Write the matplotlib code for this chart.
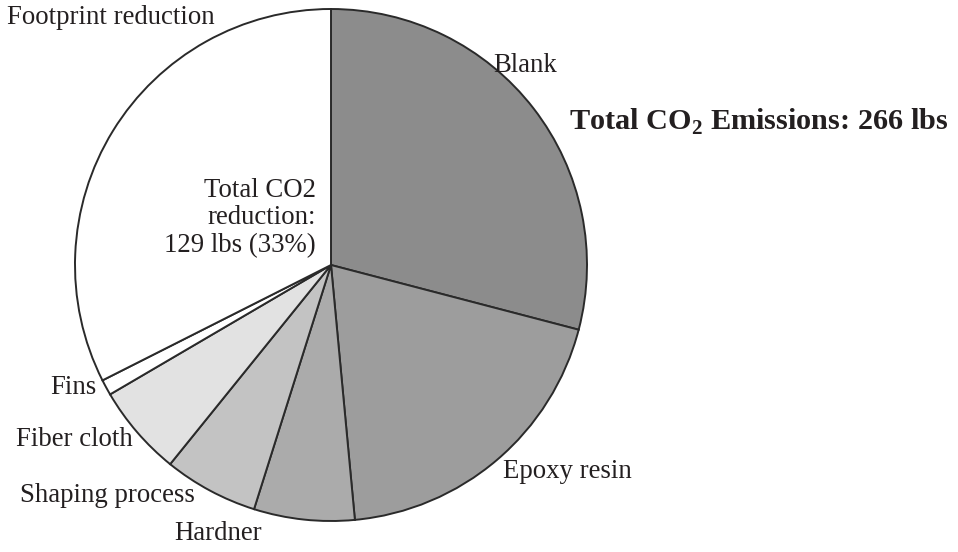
import matplotlib
matplotlib.use('Agg')
import matplotlib.pyplot as plt

# quote di emissioni (percentuali)
categorie = ['Blank', 'Epoxy resin', 'Hardner', 'Shaping process', 'Fiber cloth', 'Fins', 'Footprint reduction']
valori = [29.3, 19.6, 6.4, 6.0, 5.8, 1.0, 32.7]
colori = ['#8c8c8c', '#9d9d9d', '#ababab', '#c3c3c3', '#e2e2e2', '#ffffff', '#ffffff']

plt.rcParams['font.family'] = ['Liberation Serif', 'DejaVu Serif']
plt.rcParams['mathtext.fontset'] = 'custom'
plt.rcParams['mathtext.rm'] = 'Liberation Serif'
plt.rcParams['mathtext.bf'] = 'Liberation Serif:bold'

W, H = 958, 552
fig = plt.figure(figsize=(W / 100, H / 100), dpi=100)
ax = fig.add_axes([0, 0, 1, 1])

# pie in coordinate pixel (y verso l'alto)
ax.pie(valori, colors=colori, startangle=90, counterclock=False,
       radius=256, center=(331, H - 265),
       wedgeprops=dict(edgecolor='#2a2a2a', linewidth=1.4))
ax.set_xlim(0, W)
ax.set_ylim(0, H)
ax.set_aspect('equal')
ax.axis('off')

fs = 19.3
def etichetta(x, y, s, ha='center', **kw):
    ax.text(x, H - y, s, ha=ha, va='center', fontsize=fs, color='#231f20', **kw)

etichetta(7, 18, categorie[6], ha='left')
etichetta(525, 65, categorie[0])
etichetta(567, 472, categorie[1])
etichetta(218, 533, categorie[2])
etichetta(20, 496, categorie[3], ha='left')
etichetta(16, 440, categorie[4], ha='left')
etichetta(97, 387, categorie[5], ha='right')
ax.text(316, H - 218, 'Total CO2\nreduction:\n129 lbs (33%)', ha='right', va='center',
        fontsize=fs, color='#231f20', linespacing=1.12)

ax.text(569, H - 122, r'Total CO$_{\mathbf{2}}$ Emissions: 266 lbs', ha='left', va='center',
        fontsize=21.8, fontweight='bold', color='#231f20')

plt.savefig('out.png', dpi=100)
